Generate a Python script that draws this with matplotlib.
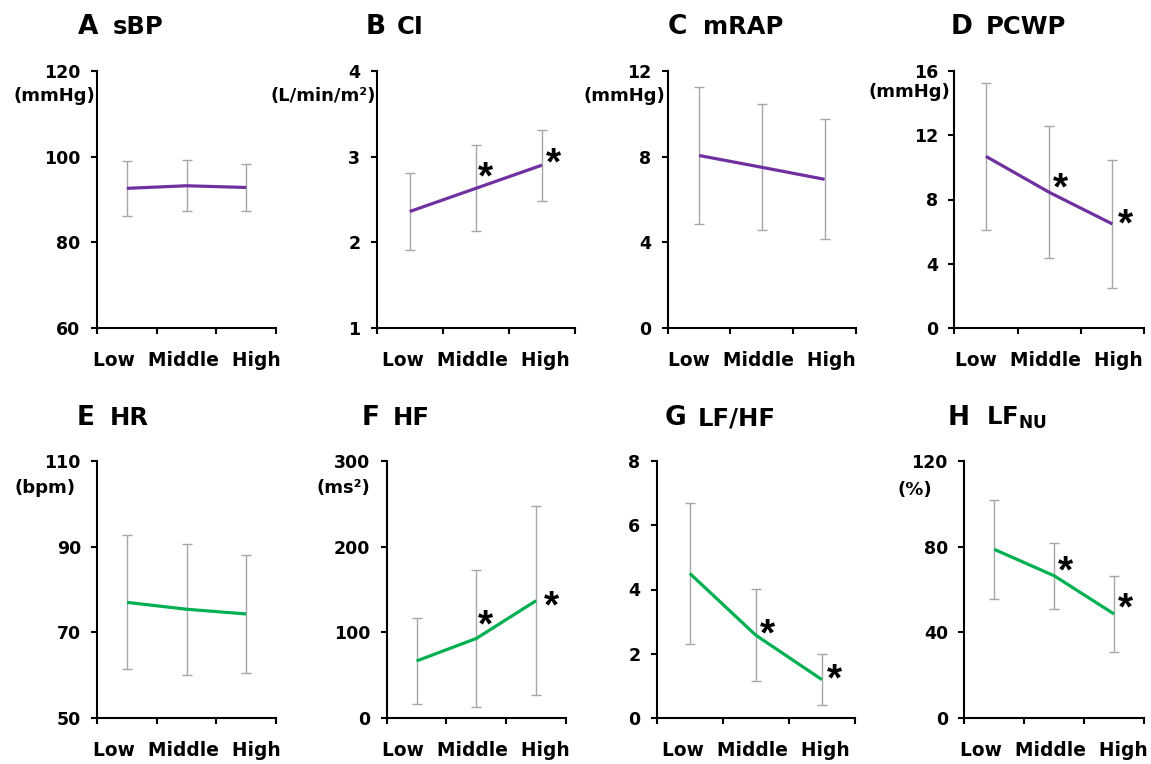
import matplotlib.pyplot as plt

groups = ['Low', 'Middle', 'High']

# means and SDs
sbp_mean = [92.6, 93.2, 92.8]
sbp_sd = [6.4, 5.9, 5.5]
ci_mean = [2.36, 2.63, 2.90]
ci_sd = [0.445, 0.50, 0.415]
mrap_mean = [8.05, 7.5, 6.94]
mrap_sd = [3.18, 2.94, 2.79]
pcwp_mean = [10.68, 8.45, 6.48]
pcwp_sd = [4.57, 4.1, 3.95]
hr_mean = [77.0, 75.4, 74.3]
hr_sd = [15.6, 15.25, 13.65]
hf_mean = [66.8, 93.0, 137.0]
hf_sd = [49.7, 80.0, 110.0]
lfhf_mean = [4.5, 2.58, 1.2]
lfhf_sd = [2.2, 1.43, 0.8]
lfnu_mean = [78.7, 66.4, 48.6]
lfnu_sd = [23.0, 15.4, 17.7]

W, H = 1151, 764
PURPLE = '#7030A0'
GREEN = '#00B050'

plt.rcParams['mathtext.fontset'] = 'custom'
plt.rcParams['mathtext.bf'] = 'DejaVu Sans:bold'
plt.rcParams['mathtext.rm'] = 'DejaVu Sans:bold'

fig = plt.figure(figsize=(W / 100, H / 100), dpi=100)

# letter, name, unit, ticks, data, colour, star pixel offsets (dx, dy) for Middle/High,
# axes box in pixels (left, right, top, bottom), title x, unit x/y
panels = [
    ('A', 'sBP', '(mmHg)', [60, 80, 100, 120], sbp_mean, sbp_sd, PURPLE, None,
     (97, 276, 70.7, 328.3), (78, 113), (95, 96)),
    ('B', 'CI', '(L/min/m²)', [1, 2, 3, 4], ci_mean, ci_sd, PURPLE, [(10, -17), (12, -8)],
     (376.7, 575, 70.7, 328.3), (366, 397), (376, 96)),
    ('C', 'mRAP', '(mmHg)', [0, 4, 8, 12], mrap_mean, mrap_sd, PURPLE, None,
     (667.7, 856, 70.7, 328.3), (668, 703), (665, 96)),
    ('D', 'PCWP', '(mmHg)', [0, 4, 8, 12, 16], pcwp_mean, pcwp_sd, PURPLE, [(11, -10), (13, -6)],
     (954.3, 1144, 70.7, 328.3), (951, 986), (950, 92)),
    ('E', 'HR', '(bpm)', [50, 70, 90, 110], hr_mean, hr_sd, GREEN, None,
     (97.3, 276, 460.7, 718.3), (77, 110), (75, 488)),
    ('F', 'HF', '(ms²)', [0, 100, 200, 300], hf_mean, hf_sd, GREEN, [(9, -19), (15, -1)],
     (386.7, 566, 460.7, 718.3), (362, 393), (370, 488)),
    ('G', 'LF/HF', '', [0, 2, 4, 6, 8], lfhf_mean, lfhf_sd, GREEN, [(12, -7), (13, -7)],
     (656.7, 855, 460.7, 718.3), (665, 698), (0, 0)),
    ('H', r'LF$_{\mathbf{NU}}$', '(%)', [0, 40, 80, 120], lfnu_mean, lfnu_sd, GREEN, [(11, -11), (11, -12)],
     (964.3, 1144, 460.7, 718.3), (948, 986), (932, 490)),
]

STAR_SIZE = 28
star_em = STAR_SIZE * 100 / 72

for letter, name, unit, ticks, mean, sd, color, stars, box, tx, ux in panels:
    l, r, t, b = box
    ax = fig.add_axes([l / W, 1 - b / H, (r - l) / W, (b - t) / H])
    x = list(range(len(groups)))
    ax.errorbar(x, mean, yerr=sd, fmt='none', ecolor='#a6a6a6', elinewidth=1,
                capsize=3.5, capthick=1, zorder=2)
    ax.plot(x, mean, color=color, lw=2.3, solid_capstyle='butt', zorder=3)
    ax.set_xlim(-0.5, 2.5)
    ax.set_ylim(ticks[0], ticks[-1])
    ax.set_yticks(ticks)
    ax.set_yticklabels([str(v) for v in ticks], fontweight='bold', fontsize=12.5)
    ax.set_xticks([-0.5, 0.5, 1.5, 2.5])
    ax.set_xticklabels([])
    ax.tick_params(axis='both', which='major', length=4.3, width=1.5, direction='out')
    ax.tick_params(axis='y', pad=7.5)
    for s in ['top', 'right']:
        ax.spines[s].set_visible(False)
    for s in ['left', 'bottom']:
        ax.spines[s].set_linewidth(1.5)
    # category labels sit as one spread-out line under the axis
    ax.text(0.5, -32 / (b - t), '  '.join(groups),
            transform=ax.transAxes, ha='center', va='center',
            fontsize=13.4, fontweight='bold')
    if stars:
        for i, (dx, dy) in zip([1, 2], stars):
            ax.annotate('*', xy=(x[i], mean[i]), xytext=(dx, -dy - 0.45 * star_em),
                        textcoords='offset pixels', ha='center', va='baseline',
                        fontsize=STAR_SIZE, fontweight='bold', family='Liberation Sans')
    ty = 1 - 27 / H if t < 200 else 1 - 418 / H
    fig.text(tx[0] / W, ty, letter, fontsize=19, fontweight='bold', ha='left', va='center')
    fig.text(tx[1] / W, ty, name, fontsize=17.5, fontweight='bold', ha='left', va='center')
    if unit:
        fig.text(ux[0] / W, 1 - ux[1] / H, unit, fontsize=13, fontweight='bold',
                 ha='right', va='center')

fig.savefig('out.png', dpi=100)
